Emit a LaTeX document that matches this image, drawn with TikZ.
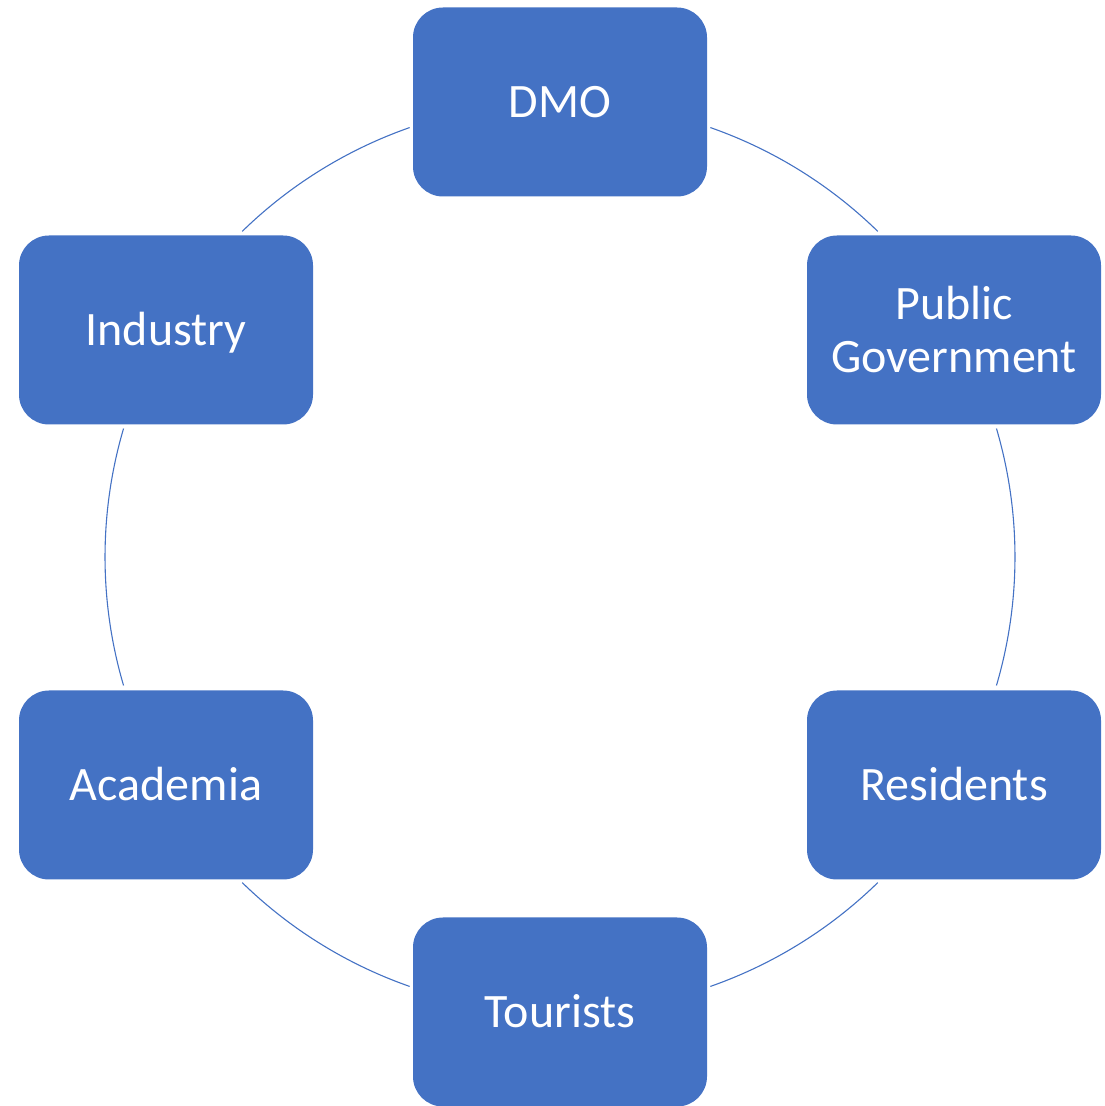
\documentclass[tikz,border=0pt]{standalone}
\usepackage{fontspec}
\setmainfont{Carlito}
\usetikzlibrary{calc}
\definecolor{office}{HTML}{4472C4}
\tikzset{
  box/.style={rectangle, rounded corners=30pt, fill=office, minimum width=294pt, minimum height=189pt, inner sep=0pt, text=white, font=\fontsize{48}{53}\selectfont, align=center},
  one/.style={text height=30.5pt, text depth=0pt},
  conn/.style={draw=office, line width=1.1pt}
}
\begin{document}
\begin{tikzpicture}[x=1pt,y=1pt]
\useasboundingbox (0,0) rectangle (1104,1106);
\coordinate (ctr) at (560,549);
\node[box,one] (dmo) at (560,1004) {DMO};
\node[box] (pg) at (954,776) {Public\\Government};
\node[box,one] (res) at (954,321) {Residents};
\node[box,one] (tour) at (560,94) {Tourists};
\node[box,one] (acad) at (166,321) {Academia};
\node[box,one] (ind) at (166,776) {Industry};
\draw[conn] ($(ctr)+(70.7:455)$) arc[start angle=70.7, end angle=45.7, radius=455];
\draw[conn] ($(ctr)+(16.4:455)$) arc[start angle=16.4, end angle=-16.4, radius=455];
\draw[conn] ($(ctr)+(-45.7:455)$) arc[start angle=-45.7, end angle=-70.7, radius=455];
\draw[conn] ($(ctr)+(-109.3:455)$) arc[start angle=-109.3, end angle=-134.3, radius=455];
\draw[conn] ($(ctr)+(-163.6:455)$) arc[start angle=-163.6, end angle=-196.4, radius=455];
\draw[conn] ($(ctr)+(134.3:455)$) arc[start angle=134.3, end angle=109.3, radius=455];
\end{tikzpicture}
\end{document}
